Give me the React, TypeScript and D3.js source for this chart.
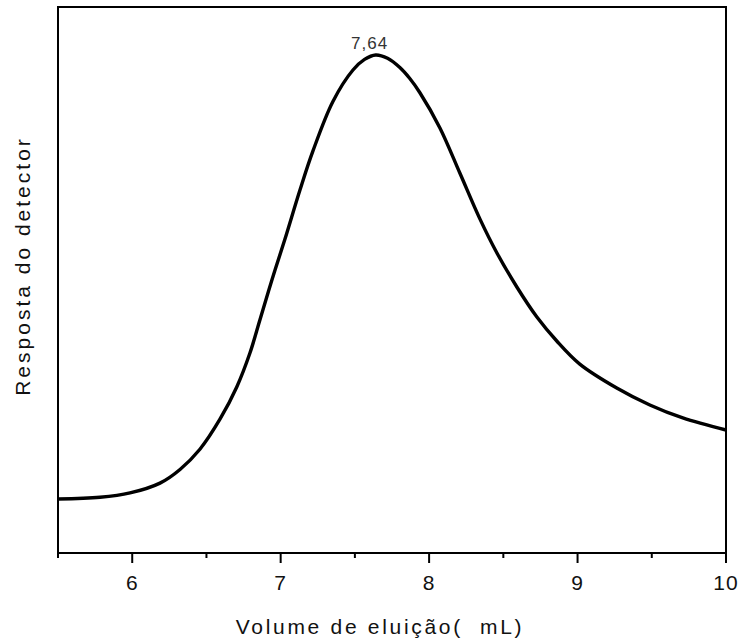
import React from "react";
import * as d3 from "d3";

const volume = [5.5, 5.783, 5.985, 6.187, 6.322, 6.456, 6.591, 6.705, 6.793, 6.86, 6.941, 7.029, 7.13, 7.217, 7.352, 7.487, 7.565, 7.64, 7.72, 7.803, 7.87, 7.938, 8.072, 8.207, 8.342, 8.456, 8.591, 8.726, 8.86, 9.015, 9.264, 9.487, 9.709, 10.0];
const response = [98.9, 102.0, 110.0, 128.0, 153.0, 190.0, 245.0, 304.6, 366.3, 426.7, 500.0, 575.0, 664.8, 736.0, 827.0, 884.6, 904.0, 912.1, 906.0, 889.0, 869.0, 843.0, 779.0, 696.0, 612.0, 550.0, 487.2, 432.2, 388.3, 346.0, 302.2, 271.1, 247.3, 225.3];
const majorTicks = [6, 7, 8, 9, 10];
const minorTicks = [5.5, 6.5, 7.5, 8.5, 9.5];
const peakLabel = "7,64";
const peakX = 7.64;
const xTitle = "Volume de eluição(  mL)";
const yTitle = "Resposta do detector";

const W = 741, H = 639;
const left = 58, right = 726, top = 7, bottom = 553;

export default function App() {
  const x = d3.scaleLinear().domain([5.5, 10]).range([left, right]);
  const y = d3.scaleLinear().domain([0, 1000]).range([bottom, top]);
  const pts: [number, number][] = volume.map((v, i) => [v, response[i]]);
  const line = d3.line<[number, number]>()
    .x(d => x(d[0]))
    .y(d => y(d[1]))
    .curve(d3.curveCatmullRom.alpha(0.5));
  const peakY = response[volume.indexOf(peakX)];
  const font = "'Liberation Sans', Arial, sans-serif";
  return (
    <svg width={W} height={H} style={{ position: "absolute", left: 0, top: 0, background: "#fff" }} fontFamily={font}>
      <rect x={0} y={0} width={W} height={H} fill="#fff" />
      <path d={line(pts) || ""} fill="none" stroke="#000" strokeWidth={3.4} strokeLinejoin="round" />
      <rect x={left} y={top} width={right - left} height={bottom - top} fill="none" stroke="#000" strokeWidth={2} />
      {majorTicks.map(t => (
        <g key={"M" + t}>
          <line x1={x(t)} x2={x(t)} y1={bottom} y2={bottom + 10} stroke="#000" strokeWidth={2} />
          <text x={x(t)} y={590} textAnchor="middle" fontSize={21} letterSpacing={1} fill="#111">{t}</text>
        </g>
      ))}
      {minorTicks.map(t => (
        <line key={"m" + t} x1={x(t)} x2={x(t)} y1={bottom} y2={bottom + 5} stroke="#000" strokeWidth={2} />
      ))}
      <text x={x(peakX) - 6} y={y(peakY) - 6} textAnchor="middle" fontSize={17} letterSpacing={1} fill="#333">{peakLabel}</text>
      <text x={380} y={634} textAnchor="middle" fontSize={21} letterSpacing={2.7} fill="#111" style={{ whiteSpace: "pre" }}>{xTitle}</text>
      <text transform={`translate(30,266) rotate(-90)`} textAnchor="middle" fontSize={21} letterSpacing={3} fill="#111">{yTitle}</text>
    </svg>
  );
}
